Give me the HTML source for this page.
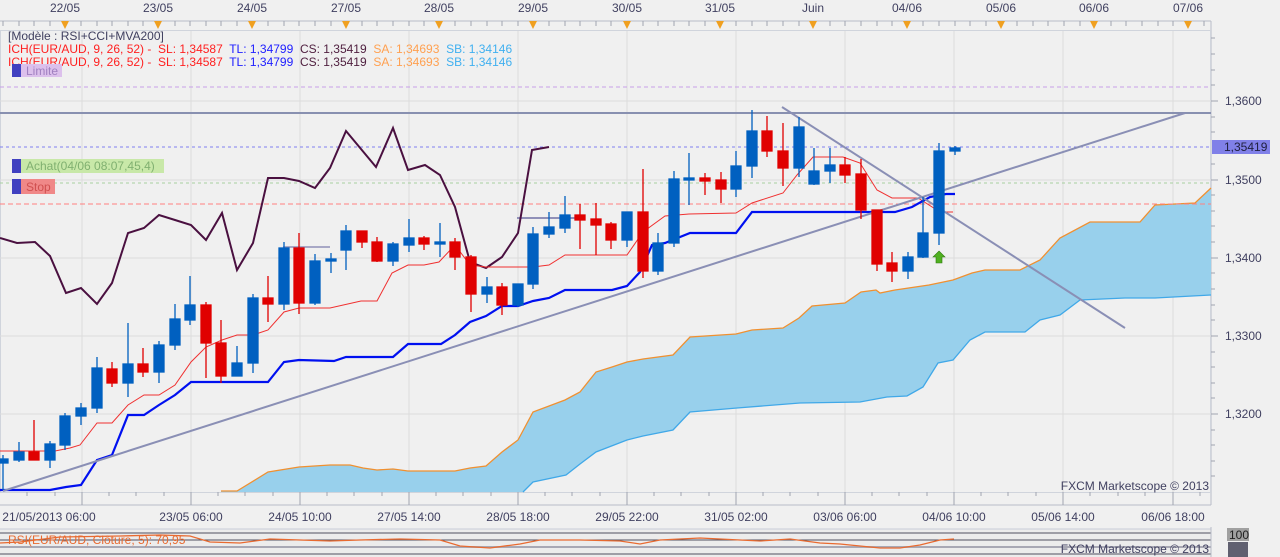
<!DOCTYPE html>
<html><head><meta charset="utf-8"><style>
html,body{margin:0;padding:0;background:#f0f0f0;}
svg{display:block;font-family:"Liberation Sans",sans-serif;}
</style></head><body>
<svg width="1280" height="557" viewBox="0 0 1280 557" xmlns="http://www.w3.org/2000/svg">
<rect width="1280" height="557" fill="#f0f0f0"/>
<!-- top date axis -->
<g font-size="12" fill="#404060" text-anchor="middle">
<text x="65" y="12">22/05</text><text x="158" y="12">23/05</text><text x="252" y="12">24/05</text><text x="346" y="12">27/05</text><text x="439" y="12">28/05</text><text x="533" y="12">29/05</text><text x="627" y="12">30/05</text><text x="720" y="12">31/05</text><text x="813" y="12">Juin</text><text x="907" y="12">04/06</text><text x="1001" y="12">05/06</text><text x="1094" y="12">06/06</text><text x="1188" y="12">07/06</text>
</g>
<line x1="0" y1="21" x2="1211" y2="21" stroke="#b8bcc8"/>
<line x1="1211" y1="21" x2="1211" y2="505" stroke="#b8bcc8"/>
<g stroke="#a0a4b0">
<path d="M3 21v5M19 21v5M34 21v5M50 21v5M81 21v5M97 21v5M112 21v5M128 21v5M143 21v5M175 21v5M190 21v5M206 21v5M221 21v5M237 21v5M268 21v5M284 21v5M299 21v5M315 21v5M331 21v5M362 21v5M377 21v5M393 21v5M409 21v5M424 21v5M455 21v5M471 21v5M487 21v5M502 21v5M518 21v5M549 21v5M565 21v5M580 21v5M596 21v5M611 21v5M643 21v5M658 21v5M674 21v5M689 21v5M705 21v5M736 21v5M752 21v5M767 21v5M783 21v5M799 21v5M830 21v5M845 21v5M861 21v5M877 21v5M892 21v5M923 21v5M939 21v5M955 21v5M970 21v5M986 21v5M1017 21v5M1033 21v5M1048 21v5M1064 21v5M1080 21v5M1111 21v5M1126 21v5M1142 21v5M1158 21v5M1173 21v5M1204 21v5"/>
</g>
<g fill="#f0a020">
<path d="M61 21h8l-4 8z"/><path d="M154 21h8l-4 8z"/><path d="M248 21h8l-4 8z"/><path d="M342 21h8l-4 8z"/><path d="M435 21h8l-4 8z"/><path d="M529 21h8l-4 8z"/><path d="M623 21h8l-4 8z"/><path d="M716 21h8l-4 8z"/><path d="M809 21h8l-4 8z"/><path d="M903 21h8l-4 8z"/><path d="M997 21h8l-4 8z"/><path d="M1090 21h8l-4 8z"/><path d="M1184 21h8l-4 8z"/>
</g>
<!-- plot frame -->
<rect x="0.5" y="30.5" width="1210" height="462" fill="#f0f0f0" stroke="#d0d4dc"/>
<!-- grid -->
<g stroke="#dcdcdc">
<path d="M82 31V492M191 31V492M300 31V492M409 31V492M518 31V492M627 31V492M736 31V492M845 31V492M954 31V492M1063 31V492M1173 31V492"/>
<path d="M0 101H1211M0 180H1211M0 258H1211M0 336H1211M0 414H1211"/>
</g>
<!-- cloud -->
<polygon fill="#98d0ec" points="221,491 237,491 268,472 299,467 330,465 350,465 363,468 377,470 393,469 408,471 455,471 470,468 486,466 502,452 518,440 533,412 565,400 580,392 596,372 612,367 627,362 643,359 673,355 690,337 736,334 752,330 783,328 799,318 812,306 845,303 861,292 876,290 880,293 895,290 929,285 953,280 972,273 985,270 1020,270 1040,260 1060,238 1090,222 1140,222 1155,205 1195,203 1211,188 1211,295 1155,298 1125,298 1080,300 1060,315 1040,320 1025,332 985,332 970,340 953,360 938,363 923,387 907,396 887,397 860,402 800,403 737,408 690,412 673,430 643,436 627,440 596,452 580,464 566,475 533,482 523,492 221,492"/>
<polyline fill="none" stroke="#f09030" stroke-width="1.3" points="221,491 237,491 268,472 299,467 330,465 350,465 363,468 377,470 393,469 408,471 455,471 470,468 486,466 502,452 518,440 533,412 565,400 580,392 596,372 612,367 627,362 643,359 673,355 690,337 736,334 752,330 783,328 799,318 812,306 845,303 861,292 876,290 880,293 895,290 929,285 953,280 972,273 985,270 1020,270 1040,260 1060,238 1090,222 1140,222 1155,205 1195,203 1211,188"/>
<polyline fill="none" stroke="#40a8e8" stroke-width="1.3" points="523,492 533,482 566,475 580,464 596,452 627,440 643,436 673,430 690,412 737,408 800,403 860,402 887,397 907,396 923,387 938,363 953,360 970,340 985,332 1025,332 1040,320 1060,315 1080,300 1125,298 1155,298 1211,295"/>
<!-- dashed levels -->
<line x1="0" y1="87" x2="1211" y2="87" stroke="#c8a0e8" stroke-dasharray="4,3"/>
<line x1="0" y1="147" x2="1211" y2="147" stroke="#8080f0" stroke-dasharray="3,3"/>
<line x1="0" y1="183" x2="1211" y2="183" stroke="#a8d0a0" stroke-dasharray="3,3"/>
<line x1="0" y1="204" x2="1211" y2="204" stroke="#ff8080" stroke-dasharray="5,3"/>
<line x1="0" y1="113" x2="1211" y2="113" stroke="#8890b0" stroke-width="2"/>
<line x1="283" y1="247" x2="330" y2="247" stroke="#9090b8" stroke-width="1.5"/>
<line x1="517" y1="218" x2="580" y2="218" stroke="#9090b8" stroke-width="2"/>
<!-- purple line -->
<polyline fill="none" stroke="#4a1040" stroke-width="2" points="0,238 17,243 35,242 50,256 66,293 81,288 97,304 112,283 128,233 144,228 159,215 175,220 191,225 206,240 222,213 237,270 253,243 268,178 284,178 299,181 315,188 330,168 346,131 376,167 393,128 408,170 425,165 440,175 455,207 470,262 486,268 502,257 518,233 532,150 549,147"/>
<!-- tenkan red -->
<polyline fill="none" stroke="#f03030" stroke-width="1" points="0,451 55,451 70,448 80,445 97,423 112,423 128,405 144,395 159,395 175,385 191,362 206,347 222,340 237,335 253,335 268,330 284,312 299,308 330,308 361,301 377,301 392,273 408,265 424,265 439,262 455,245 470,265 486,267 533,267 549,265 565,255 627,255 643,232 665,216 689,214 736,213 752,203 783,193 797,175 813,157 843,157 860,163 877,190 892,198 918,198 940,212 953,212"/>
<!-- kijun blue -->
<polyline fill="none" stroke="#0010f0" stroke-width="2.2" points="0,490 50,490 66,487 81,485 97,460 112,455 128,415 144,415 159,405 175,395 191,382 268,382 284,362 299,360 334,361 346,357 393,357 408,344 441,344 455,335 470,322 486,316 502,306 518,306 533,301 549,298 565,290 612,290 627,286 640,272 652,245 665,243 690,233 736,233 752,212 895,212 912,207 930,197 946,194 955,194"/>
<!-- trendlines -->
<line x1="3" y1="491" x2="1185" y2="113" stroke="#8a8fb5" stroke-width="2"/>
<line x1="782" y1="107" x2="1125" y2="328" stroke="#8a8fb5" stroke-width="2"/>
<!-- candles -->
<g stroke-width="1.3">
<g stroke="#0060c0" fill="#0060c0">
<line x1="3" y1="455" x2="3" y2="490"/><rect x="-2" y="459" width="10" height="4"/>
<line x1="19" y1="442" x2="19" y2="462"/><rect x="14" y="452" width="10" height="8"/>
<line x1="50" y1="441" x2="50" y2="468"/><rect x="45" y="444" width="10" height="16"/>
<line x1="65" y1="413" x2="65" y2="450"/><rect x="60" y="416" width="10" height="29"/>
<line x1="81" y1="403" x2="81" y2="425"/><rect x="76" y="408" width="10" height="8"/>
<line x1="97" y1="357" x2="97" y2="413"/><rect x="92" y="368" width="10" height="40"/>
<line x1="128" y1="323" x2="128" y2="397"/><rect x="123" y="364" width="10" height="19"/>
<line x1="159" y1="341" x2="159" y2="383"/><rect x="154" y="345" width="10" height="27"/>
<line x1="175" y1="304" x2="175" y2="350"/><rect x="170" y="319" width="10" height="26"/>
<line x1="190" y1="276" x2="190" y2="325"/><rect x="185" y="305" width="10" height="15"/>
<line x1="237" y1="346" x2="237" y2="376"/><rect x="232" y="363" width="10" height="13"/>
<line x1="253" y1="294" x2="253" y2="373"/><rect x="248" y="298" width="10" height="65"/>
<line x1="284" y1="242" x2="284" y2="310"/><rect x="279" y="248" width="10" height="56"/>
<line x1="315" y1="254" x2="315" y2="305"/><rect x="310" y="261" width="10" height="42"/>
<line x1="331" y1="253" x2="331" y2="273"/><rect x="326" y="259" width="10" height="2"/>
<line x1="346" y1="225" x2="346" y2="270"/><rect x="341" y="231" width="10" height="19"/>
<line x1="393" y1="242" x2="393" y2="266"/><rect x="388" y="244" width="10" height="17"/>
<line x1="409" y1="219" x2="409" y2="252"/><rect x="404" y="238" width="10" height="7"/>
<line x1="440" y1="223" x2="440" y2="257"/><rect x="435" y="242" width="10" height="2"/>
<line x1="487" y1="277" x2="487" y2="303"/><rect x="482" y="287" width="10" height="7"/>
<line x1="518" y1="284" x2="518" y2="307"/><rect x="513" y="284" width="10" height="21"/>
<line x1="533" y1="227" x2="533" y2="289"/><rect x="528" y="234" width="10" height="50"/>
<line x1="549" y1="212" x2="549" y2="238"/><rect x="544" y="227" width="10" height="7"/>
<line x1="565" y1="196" x2="565" y2="233"/><rect x="560" y="215" width="10" height="13"/>
<line x1="627" y1="212" x2="627" y2="247"/><rect x="622" y="212" width="10" height="28"/>
<line x1="658" y1="233" x2="658" y2="275"/><rect x="653" y="243" width="10" height="28"/>
<line x1="674" y1="171" x2="674" y2="247"/><rect x="669" y="179" width="10" height="64"/>
<line x1="689" y1="153" x2="689" y2="205"/><rect x="684" y="178" width="10" height="2"/>
<line x1="736" y1="151" x2="736" y2="197"/><rect x="731" y="166" width="10" height="23"/>
<line x1="752" y1="110" x2="752" y2="178"/><rect x="747" y="131" width="10" height="35"/>
<line x1="799" y1="117" x2="799" y2="177"/><rect x="794" y="127" width="10" height="41"/>
<line x1="814" y1="148" x2="814" y2="185"/><rect x="809" y="171" width="10" height="13"/>
<line x1="830" y1="148" x2="830" y2="183"/><rect x="825" y="165" width="10" height="6"/>
<line x1="908" y1="252" x2="908" y2="279"/><rect x="903" y="257" width="10" height="14"/>
<line x1="923" y1="197" x2="923" y2="258"/><rect x="918" y="233" width="10" height="24"/>
<line x1="939" y1="143" x2="939" y2="245"/><rect x="934" y="151" width="10" height="82"/>
<line x1="955" y1="146" x2="955" y2="155"/><rect x="950" y="148" width="10" height="3"/>
</g>
<g stroke="#e00000" fill="#e00000">
<line x1="34" y1="420" x2="34" y2="460"/><rect x="29" y="452" width="10" height="8"/>
<line x1="112" y1="362" x2="112" y2="387"/><rect x="107" y="369" width="10" height="14"/>
<line x1="143" y1="348" x2="143" y2="377"/><rect x="138" y="364" width="10" height="8"/>
<line x1="206" y1="302" x2="206" y2="378"/><rect x="201" y="305" width="10" height="38"/>
<line x1="221" y1="320" x2="221" y2="383"/><rect x="216" y="343" width="10" height="33"/>
<line x1="268" y1="276" x2="268" y2="322"/><rect x="263" y="298" width="10" height="6"/>
<line x1="299" y1="233" x2="299" y2="314"/><rect x="294" y="248" width="10" height="55"/>
<line x1="362" y1="231" x2="362" y2="248"/><rect x="357" y="231" width="10" height="11"/>
<line x1="377" y1="237" x2="377" y2="262"/><rect x="372" y="242" width="10" height="19"/>
<line x1="424" y1="236" x2="424" y2="250"/><rect x="419" y="238" width="10" height="6"/>
<line x1="455" y1="238" x2="455" y2="270"/><rect x="450" y="242" width="10" height="15"/>
<line x1="471" y1="255" x2="471" y2="312"/><rect x="466" y="257" width="10" height="37"/>
<line x1="502" y1="283" x2="502" y2="315"/><rect x="497" y="287" width="10" height="18"/>
<line x1="580" y1="204" x2="580" y2="249"/><rect x="575" y="215" width="10" height="5"/>
<line x1="596" y1="203" x2="596" y2="255"/><rect x="591" y="219" width="10" height="6"/>
<line x1="611" y1="222" x2="611" y2="249"/><rect x="606" y="224" width="10" height="16"/>
<line x1="643" y1="169" x2="643" y2="278"/><rect x="638" y="212" width="10" height="59"/>
<line x1="705" y1="173" x2="705" y2="195"/><rect x="700" y="178" width="10" height="3"/>
<line x1="721" y1="172" x2="721" y2="203"/><rect x="716" y="180" width="10" height="9"/>
<line x1="767" y1="116" x2="767" y2="157"/><rect x="762" y="131" width="10" height="20"/>
<line x1="783" y1="123" x2="783" y2="186"/><rect x="778" y="151" width="10" height="17"/>
<line x1="845" y1="157" x2="845" y2="183"/><rect x="840" y="165" width="10" height="10"/>
<line x1="861" y1="159" x2="861" y2="219"/><rect x="856" y="174" width="10" height="36"/>
<line x1="877" y1="210" x2="877" y2="271"/><rect x="872" y="210" width="10" height="54"/>
<line x1="892" y1="252" x2="892" y2="282"/><rect x="887" y="263" width="10" height="8"/>
</g>
</g>
<!-- green arrow -->
<path d="M939 251 l6 6 h-3 v6 h-6 v-6 h-3 z" fill="#50b020" stroke="#2e7a10" stroke-width="0.6"/>
<!-- header text -->
<g font-size="12">
<text x="8" y="40" fill="#404060">[Modèle : RSI+CCI+MVA200]</text>
<text x="8" y="53" xml:space="preserve"><tspan fill="#ff2020">ICH(EUR/AUD, 9, 26, 52) -  SL: 1,34587  </tspan><tspan fill="#2020ff">TL: 1,34799  </tspan><tspan fill="#502040">CS: 1,35419  </tspan><tspan fill="#ffa050">SA: 1,34693  </tspan><tspan fill="#40b0f0">SB: 1,34146</tspan></text>
<text x="8" y="66" xml:space="preserve"><tspan fill="#ff2020">ICH(EUR/AUD, 9, 26, 52) -  SL: 1,34587  </tspan><tspan fill="#2020ff">TL: 1,34799  </tspan><tspan fill="#502040">CS: 1,35419  </tspan><tspan fill="#ffa050">SA: 1,34693  </tspan><tspan fill="#40b0f0">SB: 1,34146</tspan></text>
</g>
<!-- order labels -->
<rect x="12" y="64" width="50" height="13" fill="#dcc0ec"/><rect x="12" y="64" width="9" height="13" fill="#4040c0"/>
<text x="26" y="75" font-size="12" fill="#a080c0">Limite</text>
<rect x="12" y="159" width="152" height="14" fill="#c8e8a8"/><rect x="12" y="159" width="9" height="14" fill="#4040c0"/>
<text x="26" y="170" font-size="12" fill="#80b070">Achat(04/06 08:07,45,4)</text>
<rect x="12" y="179" width="43" height="15" fill="#f08888"/><rect x="12" y="179" width="9" height="15" fill="#4040c0"/>
<text x="26" y="191" font-size="12" fill="#d05050">Stop</text>
<!-- right axis -->
<g stroke="#a0a4b0">
<path d="M1211 101h7M1211 180h7M1211 258h7M1211 336h7M1211 414h7M1211 38h4M1211 54h4M1211 70h4M1211 85h4M1211 117h4M1211 132h4M1211 164h4M1211 195h4M1211 211h4M1211 226h4M1211 242h4M1211 273h4M1211 289h4M1211 305h4M1211 320h4M1211 352h4M1211 367h4M1211 383h4M1211 398h4M1211 430h4M1211 445h4M1211 461h4M1211 476h4"/>
</g>
<g font-size="12" fill="#404060">
<text x="1225" y="105">1,3600</text><text x="1225" y="184">1,3500</text><text x="1225" y="262">1,3400</text><text x="1225" y="340">1,3300</text><text x="1225" y="418">1,3200</text>
</g>
<rect x="1212" y="140" width="58" height="14" fill="#8080e8"/>
<text x="1224" y="151" font-size="12" fill="#202040">1,35419</text>
<text x="1209" y="490" font-size="12" fill="#404060" text-anchor="end">FXCM Marketscope © 2013</text>
<!-- bottom axis -->
<line x1="0" y1="505" x2="1211" y2="505" stroke="#b8bcc8"/>
<g stroke="#a0a4b0">
<path d="M82 492v13M191 492v13M300 492v13M409 492v13M518 492v13M627 492v13M736 492v13M845 492v13M954 492v13M1063 492v13M1173 492v13"/>
<path d="M27 492v4M55 492v4M109 492v4M136 492v4M164 492v4M218 492v4M245 492v4M273 492v4M327 492v4M354 492v4M382 492v4M436 492v4M463 492v4M491 492v4M545 492v4M572 492v4M600 492v4M654 492v4M681 492v4M709 492v4M763 492v4M790 492v4M818 492v4M872 492v4M899 492v4M927 492v4M981 492v4M1008 492v4M1036 492v4M1090 492v4M1118 492v4M1145 492v4M1200 492v4"/>
</g>
<g font-size="12" fill="#404060" text-anchor="middle">
<text x="49" y="521">21/05/2013 06:00</text><text x="191" y="521">23/05 06:00</text><text x="300" y="521">24/05 10:00</text><text x="409" y="521">27/05 14:00</text><text x="518" y="521">28/05 18:00</text><text x="627" y="521">29/05 22:00</text><text x="736" y="521">31/05 02:00</text><text x="845" y="521">03/06 06:00</text><text x="954" y="521">04/06 10:00</text><text x="1063" y="521">05/06 14:00</text><text x="1173" y="521">06/06 18:00</text>
</g>
<!-- RSI panel -->
<rect x="0" y="529" width="1211" height="28" fill="#ececec"/>
<line x1="0" y1="529" x2="1211" y2="529" stroke="#c8ccd8"/>
<line x1="0" y1="533" x2="1211" y2="533" stroke="#505060"/>
<line x1="0" y1="540" x2="1211" y2="540" stroke="#505060"/>
<line x1="0" y1="547" x2="1211" y2="547" stroke="#a8a8b4" stroke-width="2"/>
<line x1="0" y1="554" x2="1211" y2="554" stroke="#505060"/>
<polyline fill="none" stroke="#e86a30" stroke-width="1.3" points="0,543 20,542 60,537 120,536 160,535 190,536 210,542 240,543 270,539 300,540 330,541 360,540 400,539 440,540 460,546 490,548 520,544 540,540 580,540 620,541 640,544 660,540 700,538 740,540 760,541 790,539 820,543 840,544 860,546 880,548 900,548 920,545 940,540 954,539"/>
<text x="8" y="544" font-size="12" fill="#e86a30">RSI(EUR/AUD, Clôture, 5): 70,95</text>
<text x="1209" y="553" font-size="12" fill="#404060" text-anchor="end">FXCM Marketscope © 2013</text>
<line x1="1211" y1="527" x2="1211" y2="557" stroke="#b8bcc8"/>
<rect x="1227" y="528" width="22" height="13" fill="#a0a0a0"/>
<text x="1229" y="539" font-size="12" fill="#202020">100</text>
<rect x="1228" y="542" width="20" height="15" fill="#606070"/>
</svg>
</body></html>
